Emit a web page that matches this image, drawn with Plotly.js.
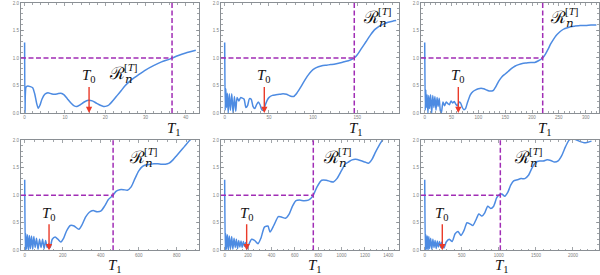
<!DOCTYPE html>
<html><head><meta charset="utf-8">
<script src="https://cdn.plot.ly/plotly-3.0.1.min.js"></script>
<style>html,body{margin:0;padding:0;background:#fff}#c{width:600px;height:275px}</style>
</head><body><div id="c"></div>
<script>
// ---- data ----
const t1 = [0,0.1,0.35,0.8,1.4,2.0,2.5,3.0,3.38,3.8,4.3,5.0,5.8,6.6,7.4,8.2,9.0,9.8,10.6,11.5,12.3,13.0,13.8,14.8,15.8,16.8,17.8,18.8,19.6,20.3,21,22,23,24,25,26,27,28,30,32,34,36,38,40,42.5];
const r1 = [1.28,0.0,0.47,0.49,0.48,0.46,0.35,0.17,0.085,0.14,0.25,0.34,0.37,0.35,0.34,0.35,0.36,0.33,0.26,0.18,0.13,0.12,0.15,0.2,0.23,0.22,0.18,0.14,0.12,0.125,0.15,0.23,0.32,0.41,0.5,0.57,0.63,0.68,0.78,0.86,0.93,0.98,1.04,1.09,1.14];

const t2 = [0,0.6,1.3,2.0,3.0,4.0,5.2,6.5,8.0,9.5,11,12.5,14,16,18,20,22,24,26,28,30,32,34,36,38,40,42,44,46,48,50,54,58,62,66,70,74,78,82,86,90,94,98,102,106,110,115,120,125,130,135,140,146.6,150,155,160,165,170,175,180,185,190,194];
const r2 = [1.28,0.05,0.44,0.1,0.36,0.0,0.35,0.05,0.35,0.0,0.3,0.03,0.28,0.22,0.28,0.27,0.25,0.1,0.14,0.26,0.25,0.12,0.08,0.15,0.2,0.15,0.06,0.05,0.15,0.23,0.28,0.32,0.33,0.34,0.35,0.34,0.31,0.30,0.37,0.47,0.58,0.68,0.76,0.81,0.84,0.86,0.87,0.88,0.89,0.91,0.93,0.95,1.0,1.06,1.18,1.30,1.42,1.52,1.58,1.62,1.65,1.67,1.68];

const t3 = [0,1,2,3,4.5,6,7.5,9,11,13,15,17,19,21,23,25,27,29,31,34,37,40,43,46,49,52,55,58,61,64,67,70,73,76,80,85,90,95,100,105,110,115,120,125,128,132,138,144,150,156,162,168,175,182,190,198,205,212,219.9,225,230,235,240,245,250,255,260,266,272,280,290,300,310,320];
const r3 = [1.28,0.05,0.42,0.1,0.33,0.0,0.32,0.08,0.33,0.0,0.32,0.1,0.3,0.05,0.28,0.12,0.27,0.05,0.0,0.2,0.13,0.2,0.17,0.15,0.22,0.18,0.21,0.16,0.13,0.2,0.18,0.1,0.06,0.08,0.2,0.33,0.39,0.42,0.44,0.45,0.44,0.42,0.40,0.40,0.41,0.47,0.58,0.66,0.71,0.76,0.81,0.85,0.88,0.9,0.91,0.92,0.92,0.95,1.0,1.07,1.16,1.26,1.34,1.41,1.46,1.50,1.53,1.55,1.57,1.58,1.59,1.59,1.6,1.6];

const t4 = [0,3,6,10,15,20,25,30,36,42,48,55,62,70,78,86,94,102,110,118,126,134,145,160,175,190,205,220,240,260,285,300,320,340,360,380,400,420,440,465,480,500,520,540,560,580,600,620,640,660,680,700,720,740,760,780,800,820,840,870,890];
const r4 = [1.28,0.0,0.3,0.02,0.28,0.0,0.27,0.03,0.26,0.02,0.25,0.05,0.22,0.02,0.2,0.05,0.2,0.03,0.18,0.05,0.12,0.05,0.2,0.24,0.2,0.15,0.22,0.35,0.45,0.44,0.38,0.45,0.6,0.69,0.72,0.7,0.71,0.8,0.92,1.0,1.07,1.1,1.1,1.09,1.15,1.3,1.44,1.52,1.55,1.56,1.57,1.57,1.56,1.56,1.58,1.64,1.72,1.8,1.88,2.0,2.05];

const t5 = [0,5,10,16,24,32,40,50,60,70,80,90,100,110,120,130,140,150,160,170,180,190,205,230,255,285,310,340,370,388,420,459,490,520,550,580,610,640,680,716,740,758,790,830,870,900,930,960,1000,1030,1058,1090,1120,1160,1200,1230,1260,1290,1320,1350,1380];
const r5 = [1.28,0.0,0.3,0.02,0.28,0.0,0.26,0.03,0.25,0.02,0.22,0.05,0.2,0.03,0.18,0.06,0.17,0.05,0.16,0.07,0.14,0.02,0.1,0.2,0.18,0.12,0.22,0.42,0.44,0.33,0.45,0.61,0.6,0.58,0.65,0.8,0.9,0.91,0.9,0.91,0.95,1.0,1.15,1.27,1.27,1.25,1.24,1.3,1.45,1.56,1.6,1.64,1.65,1.63,1.6,1.58,1.65,1.78,1.9,2.0,2.1];

const t6 = [0,8,16,25,35,45,55,65,80,95,110,125,140,155,170,185,200,215,230,245,260,290,330,370,410,450,490,530,570,610,650,690,730,770,810,850,890,930,970,1000,1040,1080,1120,1160,1200,1250,1300,1350,1400,1450,1500,1550,1600,1650,1700,1750,1800,1850,1900,1950,2000,2050,2100,2150,2200,2250];
const r6 = [1.28,0.0,0.28,0.02,0.26,0.0,0.25,0.03,0.22,0.02,0.2,0.05,0.18,0.03,0.17,0.06,0.16,0.05,0.15,0.08,0.04,0.15,0.2,0.16,0.3,0.34,0.27,0.36,0.5,0.48,0.45,0.55,0.66,0.62,0.68,0.8,0.76,0.8,0.95,1.0,1.02,0.98,1.05,1.18,1.26,1.28,1.3,1.3,1.36,1.5,1.6,1.62,1.62,1.64,1.63,1.6,1.62,1.72,1.88,2.0,2.02,2.0,1.97,1.95,1.96,1.98];

const T0 = [16.0, 44.8, 62.6, 128, 188, 237];
const T1 = [36.6, 146.6, 219.9, 465, 758, 1020];
const labelPos = [[20.7,0.545],[155,1.57],[231.6,1.57],[545,1.51],[830,1.51],[1195,1.51]];
const xRanges = [[-0.9,43.3],[-4.2,197.2],[-6.9,324.8],[-19.5,917],[-31.6,1491],[-50,2351]];
const xDticks = [10,50,50,200,200,500];
const xMinor = [2,10,10,50,50,100];
const yTickVals = [0,0.5,1,1.5,2];
const yTickText = ['0.0','0.5','1.0','1.5','2.0'];

const T = [t1,t2,t3,t4,t5,t6];
const R = [r1,r2,r3,r4,r5,r6];

// ---- layout ----
const BLUE = '#4d8be2', PURP = '#a12db5', RED = '#ea3b2a', FRAME = '#8a8f94';
const xDom = [[0.035,0.3317],[0.3683,0.665],[0.7017,0.9983]];
const yDom = [[0.5891,0.9891],[0.0898,0.4909]];
const serif = 'Liberation Serif, DejaVu Serif, serif';

const data = [];
const layout = {
  width:600, height:275, margin:{l:0,r:0,t:0,b:0},
  paper_bgcolor:'#fff', plot_bgcolor:'#fff', showlegend:false,
  annotations:[], shapes:[]
};

for (let i=0;i<6;i++){
  const k = i===0 ? '' : String(i+1);
  const xa = 'x'+k, ya = 'y'+k;
  data.push({x:T[i], y:R[i], xaxis:xa, yaxis:ya, type:'scatter', mode:'lines',
    line:{color:BLUE, width:1.5, shape:'spline', smoothing:0.6}, hoverinfo:'skip'});
  const common = {showgrid:false, zeroline:false, showline:true, linecolor:FRAME, linewidth:1,
    mirror:'ticks', ticks:'inside', ticklen:3, tickcolor:FRAME, tickwidth:0.8,
    tickfont:{size:4.5, color:'#808080', family:'Liberation Sans, Arial'}};
  layout['xaxis'+k] = Object.assign({}, common, {domain:xDom[i%3], anchor:ya, range:xRanges[i],
    dtick:xDticks[i], tick0:0, minor:{ticks:'inside', ticklen:1.6, tickcolor:FRAME, dtick:xMinor[i], tick0:0}});
  layout['yaxis'+k] = Object.assign({}, common, {domain:yDom[Math.floor(i/3)], anchor:xa, range:[0,2],
    tickvals:yTickVals, ticktext:yTickText, minor:{ticks:'inside', ticklen:1.6, tickcolor:FRAME, dtick:0.1, tick0:0}});
  // dashed guide lines
  layout.shapes.push({type:'line', xref:xa, yref:ya, x0:xRanges[i][0], x1:T1[i], y0:1, y1:1,
    line:{color:PURP, width:1.5, dash:'5px,2.5px'}});
  layout.shapes.push({type:'line', xref:xa, yref:ya, x0:T1[i], x1:T1[i], y0:0, y1:2,
    line:{color:PURP, width:1.5, dash:'5px,2.5px'}});
  // T0 arrow
  layout.annotations.push({xref:xa, yref:ya, axref:xa, ayref:ya, x:T0[i], y:0, ax:T0[i], ay:0.5,
    text:'', showarrow:true, arrowhead:2, arrowsize:0.9, arrowwidth:1.4, arrowcolor:RED, standoff:0, startstandoff:0});
  layout.annotations.push({xref:xa, yref:ya, x:T0[i], y:0.5, yanchor:'bottom', xanchor:'center', showarrow:false,
    text:'<i>T</i><sub>0</sub>', font:{family:serif, size:15, color:'#111'}, yshift:-2});
  // T1 label
  layout.annotations.push({xref:xa, yref:ya, x:T1[i], y:0, yanchor:'top', xanchor:'center', showarrow:false,
    text:'<i>T</i><sub>1</sub>', font:{family:serif, size:15, color:'#111'}, yshift:-5, xshift:2});
  // R label
  layout.annotations.push({xref:xa, yref:ya, x:labelPos[i][0], y:labelPos[i][1], yanchor:'bottom', xanchor:'left',
    showarrow:false, text:'ℛ<sub><i>n</i></sub>', font:{family:'DejaVu Serif, serif', size:17, color:'#111'}, yshift:-5, xshift:-1});
  layout.annotations.push({xref:xa, yref:ya, x:labelPos[i][0], y:labelPos[i][1], yanchor:'bottom', xanchor:'left',
    showarrow:false, text:'[<i>T</i>]', font:{family:serif, size:11, color:'#111'}, xshift:14, yshift:8});
}

Plotly.newPlot('c', data, layout, {staticPlot:true, displayModeBar:false});
</script></body></html>
